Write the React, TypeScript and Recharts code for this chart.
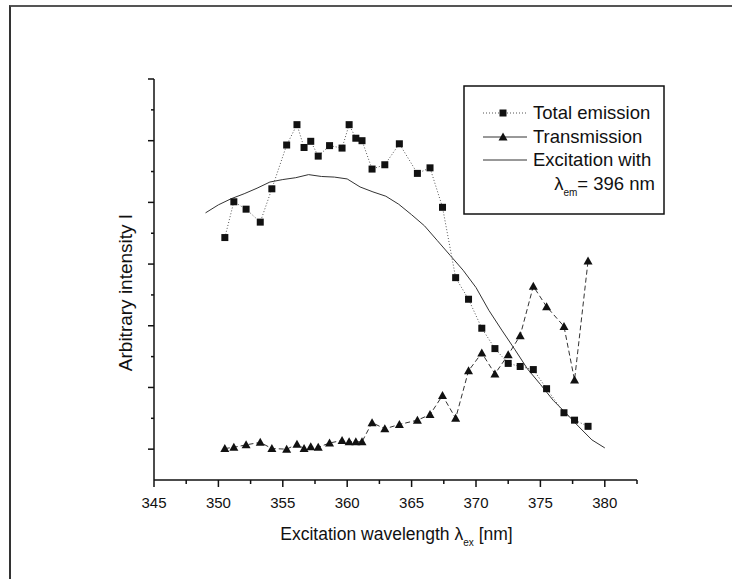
import React from 'react';
import { ScatterChart, Scatter, XAxis, YAxis } from 'recharts';

// shared scan wavelengths (nm) for emission + transmission
const scanWavelength = [
  350.5, 351.2, 352.15, 353.25, 354.15, 355.3, 356.1, 356.65, 357.17, 357.75, 358.63, 359.6,
  360.15, 360.67, 361.15, 361.93, 362.92, 364.05, 365.45, 366.43, 367.4, 368.42, 369.42, 370.45,
  371.47, 372.5, 373.43, 374.45, 375.48, 376.83, 377.65, 378.7
];
const totalEmission = [
  3.43, 4.01, 3.89, 3.68, 4.22, 4.93, 5.26, 4.89, 4.99, 4.75, 4.92, 4.88,
  5.26, 5.04, 5.0, 4.54, 4.61, 4.95, 4.47, 4.56, 3.92, 2.78, 2.43, 1.96,
  1.63, 1.39, 1.34, 1.29, 0.98, 0.59, 0.47, 0.37
];
const transmission = [
  0.01, 0.03, 0.07, 0.11, 0.01, 0.0, 0.08, 0.01, 0.04, 0.03, 0.1, 0.14,
  0.12, 0.12, 0.12, 0.43, 0.33, 0.4, 0.47, 0.56, 0.87, 0.5, 1.27, 1.56,
  1.22, 1.53, 1.84, 2.64, 2.31, 1.99, 1.12, 3.05
];
const excitationWavelength = [
  349, 350, 351, 352, 353, 354, 355, 356, 357, 358, 359, 360, 361, 362, 363, 364,
  365, 366, 367, 368, 369, 370, 371, 372, 373, 374, 375, 376, 377, 378, 379, 380
];
const excitation = [
  3.83, 3.96, 4.06, 4.14, 4.23, 4.33, 4.37, 4.4, 4.45, 4.42, 4.41, 4.38, 4.25, 4.17, 4.1, 3.97,
  3.8, 3.62, 3.38, 3.14, 2.9, 2.62, 2.25, 1.93, 1.62, 1.3, 1.05, 0.79, 0.58, 0.36, 0.15, 0.02
];
const xTicks = [345, 347.5, 350, 352.5, 355, 357.5, 360, 362.5, 365, 367.5, 370, 372.5, 375, 377.5, 380, 382.5];
const yTicks = [0, 0.5, 1, 1.5, 2, 2.5, 3, 3.5, 4, 4.5, 5, 5.5, 6];

const FONT = '"Liberation Sans", Arial, sans-serif';
const INK = '#111';

const emissionData = scanWavelength.map((x, i) => ({ x, y: totalEmission[i] }));
const transmissionData = scanWavelength.map((x, i) => ({ x, y: transmission[i] }));
const excitationData = excitationWavelength.map((x, i) => ({ x, y: excitation[i] }));

const Square = ({ cx, cy }: any) => <rect x={cx - 3.5} y={cy - 3.5} width={7} height={7} fill={INK} />;
const Triangle = ({ cx, cy }: any) => (
  <polygon points={`${cx - 4.5},${cy + 3.5} ${cx + 4.5},${cy + 3.5} ${cx},${cy - 4.5}`} fill={INK} />
);
const NoDot = () => <g />;

const XTick = ({ x, y, payload }: any) => {
  const major = payload.value % 5 === 0;
  return (
    <g>
      <line x1={x} y1={y} x2={x} y2={y + (major ? 7 : 4)} stroke={INK} strokeWidth={1.5} />
      {major && (
        <text x={x} y={y + 28} textAnchor="middle" fontSize={15} fontFamily={FONT} fill={INK}>
          {payload.value}
        </text>
      )}
    </g>
  );
};

const YTick = ({ x, y, payload }: any) => {
  const major = payload.value % 1 === 0;
  return <line x1={x} y1={y} x2={x - (major ? 6 : 3)} y2={y} stroke={INK} strokeWidth={1.5} />;
};

const XTitle = ({ viewBox }: any) => {
  const cx = viewBox.x + viewBox.width / 2;
  return (
    <text x={cx + 1} y={viewBox.y + 60} textAnchor="middle" fontSize={17.5} fontFamily={FONT} fill={INK}>
      Excitation wavelength λ
      <tspan fontSize={10} dy={6}>ex</tspan>
      <tspan dy={-6}> [nm]</tspan>
    </text>
  );
};

const YTitle = ({ viewBox }: any) => {
  const x = 132;
  const y = viewBox.y + viewBox.height / 2 + 13;
  return (
    <text x={x} y={y} transform={`rotate(-90, ${x}, ${y})`} textAnchor="middle" fontSize={19} fontFamily={FONT} fill={INK}>
      Arbitrary intensity I
    </text>
  );
};

const LegendBox = () => (
  <svg width={204} height={132} style={{ position: 'absolute', left: 462, top: 84 }}>
    <rect x={2} y={2} width={200} height={128} fill="#fff" stroke={INK} strokeWidth={1.5} />
    <line x1={21} y1={29} x2={65} y2={29} stroke="#555" strokeWidth={1} strokeDasharray="1 2" />
    <rect x={37.5} y={25.5} width={7} height={7} fill={INK} />
    <text x={71} y={35} fontSize={18.5} fontFamily={FONT} fill={INK}>Total emission</text>
    <line x1={21} y1={53} x2={65} y2={53} stroke="#333" strokeWidth={1} />
    <polygon points="36.5,56.5 45.5,56.5 41,48.5" fill={INK} />
    <text x={71} y={59} fontSize={18.5} fontFamily={FONT} fill={INK}>Transmission</text>
    <line x1={21} y1={76} x2={65} y2={76} stroke="#333" strokeWidth={1} />
    <text x={71} y={82} fontSize={18.5} fontFamily={FONT} fill={INK}>Excitation with</text>
    <text x={193} y={106} textAnchor="end" fontSize={18.5} fontFamily={FONT} fill={INK}>
      λ<tspan fontSize={10} dy={6}>em</tspan>
      <tspan dy={-6}>= 396 nm</tspan>
    </text>
  </svg>
);

export default function App() {
  return (
    <div style={{ position: 'absolute', left: 0, top: 0, width: 732, height: 579, background: '#fff', overflow: 'hidden' }}>
      <div style={{ position: 'absolute', left: 9, top: 5, right: 0, bottom: 0, borderLeft: '2px solid #333', borderTop: '2px solid #555' }} />
      <ScatterChart width={732} height={579} margin={{ top: 79, right: 95, bottom: 59, left: 124 }}>
        <XAxis
          type="number"
          dataKey="x"
          domain={[345, 382.5]}
          ticks={xTicks}
          interval={0}
          tickSize={0}
          tickMargin={0}
          tickLine={false}
          tick={<XTick />}
          height={40}
          stroke={INK}
          strokeWidth={1.5}
          allowDataOverflow
          label={<XTitle />}
        />
        <YAxis
          type="number"
          dataKey="y"
          domain={[-0.5, 6]}
          ticks={yTicks}
          interval={0}
          tickSize={0}
          tickMargin={0}
          tickLine={false}
          tick={<YTick />}
          width={30}
          stroke={INK}
          strokeWidth={1.5}
          allowDataOverflow
          label={<YTitle />}
        />
        <Scatter
          name="Excitation with λem = 396 nm"
          data={excitationData}
          line={{ stroke: '#333', strokeWidth: 1 }}
          lineType="joint"
          shape={<NoDot />}
          isAnimationActive={false}
        />
        <Scatter
          name="Total emission"
          data={emissionData}
          line={{ stroke: '#555', strokeWidth: 1, strokeDasharray: '1 2' }}
          lineType="joint"
          shape={<Square />}
          isAnimationActive={false}
        />
        <Scatter
          name="Transmission"
          data={transmissionData}
          line={{ stroke: '#333', strokeWidth: 1, strokeDasharray: '5 3' }}
          lineType="joint"
          shape={<Triangle />}
          isAnimationActive={false}
        />
      </ScatterChart>
      <LegendBox />
    </div>
  );
}
